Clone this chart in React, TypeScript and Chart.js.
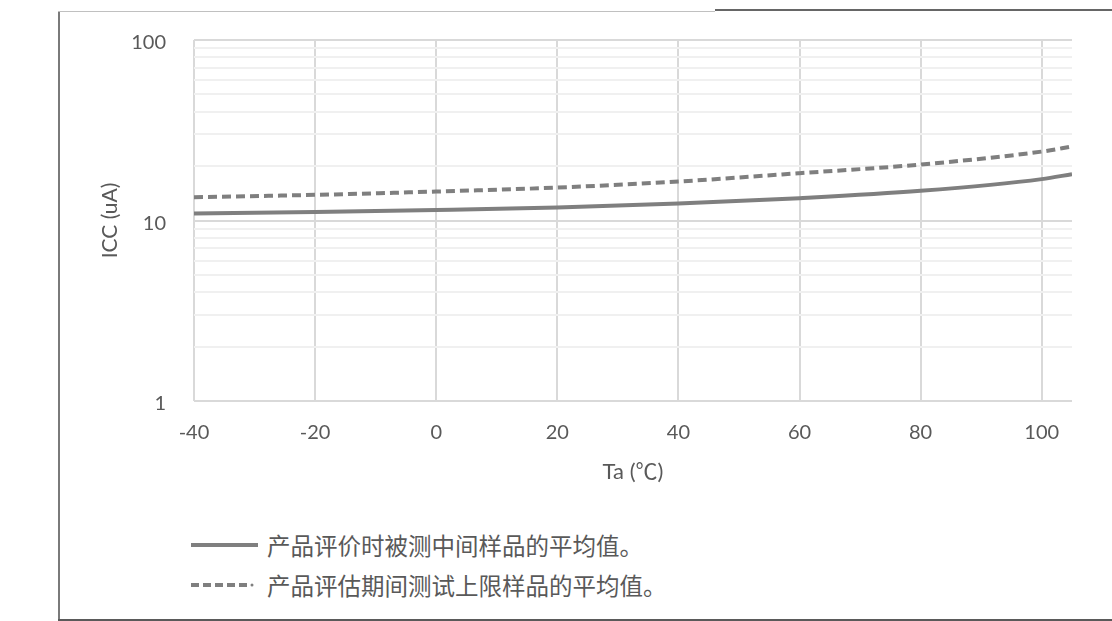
import React, { useEffect, useRef } from "react";
import { Chart, registerables } from "chart.js";

Chart.register(...registerables);

// ---- data ----
const temperatures = [-40, -20, 0, 20, 40, 60, 80, 100, 105];
const typicalIcc = [10.93, 11.13, 11.42, 11.8, 12.42, 13.3, 14.6, 16.95, 18.06];
const upperIcc = [13.47, 13.87, 14.47, 15.22, 16.44, 18.29, 20.42, 24.09, 25.68];
const seriesNames = ["产品评价时被测中间样品的平均值。", "产品评估期间测试上限样品的平均值。"];
const xTicks = [-40, -20, 0, 20, 40, 60, 80, 100];
const yTicks = [1, 2, 3, 4, 5, 6, 7, 8, 9, 10, 20, 30, 40, 50, 60, 70, 80, 90, 100];
const yLabelTicks = [1, 10, 100];
const xTitle = "Ta (℃)";
const yTitle = "ICC (uA)";

const FONT = "Lato, 'Noto Sans CJK SC', sans-serif";
const TEXT = "#595959";
const LINE = "#7f7f7f";

export default function App() {
  const canvasRef = useRef<HTMLCanvasElement | null>(null);

  useEffect(() => {
    const canvas = canvasRef.current;
    if (!canvas) return;
    const chart = new Chart(canvas, {
      type: "line",
      data: {
        datasets: [
          {
            label: seriesNames[0],
            data: temperatures.map((t, i) => ({ x: t, y: typicalIcc[i] })),
            borderColor: LINE,
            borderWidth: 4,
            pointRadius: 0,
            cubicInterpolationMode: "monotone",
            fill: false,
          },
          {
            label: seriesNames[1],
            data: temperatures.map((t, i) => ({ x: t, y: upperIcc[i] })),
            borderColor: LINE,
            borderWidth: 4,
            borderDash: [9, 5],
            pointRadius: 0,
            cubicInterpolationMode: "monotone",
            fill: false,
          },
        ],
      },
      options: {
        responsive: false,
        animation: false,
        layout: { padding: { left: 0, top: 40, right: 40, bottom: 0 } },
        plugins: { legend: { display: false }, tooltip: { enabled: false } },
        scales: {
          x: {
            type: "linear",
            min: -40,
            max: 105,
            afterBuildTicks: (axis: any) => {
              axis.ticks = xTicks.map((v) => ({ value: v }));
            },
            afterFit: (axis: any) => {
              axis.height = 99;
            },
            grid: { color: "#d9d9d9", lineWidth: 2, drawTicks: false },
            border: { display: false },
            ticks: {
              color: TEXT,
              font: { family: FONT, size: 20 },
              padding: 20,
              maxRotation: 0,
              autoSkip: false,
            },
            title: {
              display: true,
              text: xTitle,
              color: TEXT,
              font: { family: FONT, size: 22 },
              padding: { top: 15, bottom: 15 },
            },
          },
          y: {
            type: "logarithmic",
            min: 1,
            max: 100,
            afterBuildTicks: (axis: any) => {
              axis.ticks = yTicks.map((v) => ({ value: v }));
            },
            afterFit: (axis: any) => {
              axis.width = 194;
            },
            grid: {
              color: (ctx: any) =>
                ctx.tick && yLabelTicks.includes(ctx.tick.value) ? "#d9d9d9" : "#f0f0f0",
              lineWidth: 2,
              drawTicks: false,
            },
            border: { display: false },
            ticks: {
              color: TEXT,
              font: { family: FONT, size: 20 },
              padding: 28,
              autoSkip: false,
              labelOffset: 3,
              callback: (v: any) => (yLabelTicks.includes(Number(v)) ? String(v) : ""),
            },
            title: {
              display: true,
              text: yTitle,
              color: TEXT,
              font: { family: FONT, size: 21 },
              padding: { top: 98, bottom: 0 },
            },
          },
        },
      },
    } as any);
    return () => chart.destroy();
  }, []);

  return (
    <div style={{ position: "absolute", left: 0, top: 0, width: 1112, height: 621, background: "#fff", overflow: "hidden" }}>
      {/* frame lines */}
      <div style={{ position: "absolute", left: 58, top: 11, width: 2, height: 610, background: "#7a7a7a" }} />
      <div style={{ position: "absolute", left: 58, top: 11, width: 657, height: 1, background: "#c0c0c0" }} />
      <div style={{ position: "absolute", left: 715, top: 9, width: 397, height: 2, background: "#666" }} />
      <div style={{ position: "absolute", left: 58, top: 619, width: 1054, height: 2, background: "#5a5a5a" }} />
      <canvas ref={canvasRef} width={1112} height={500} style={{ position: "absolute", left: 0, top: 0, width: 1112, height: 500 }} />
      {/* legend */}
      {seriesNames.map((name, i) => (
        <div
          key={name}
          style={{
            position: "absolute",
            left: 191,
            top: i === 0 ? 530 : 570,
            height: 30,
            display: "flex",
            alignItems: "center",
            fontFamily: FONT,
            fontSize: 23.5,
            color: TEXT,
            whiteSpace: "nowrap",
          }}
        >
          <svg width={68} height={8} style={{ marginRight: 8 }}>
            {i === 0 ? (
              <line x1={0} y1={4} x2={67} y2={4} stroke={LINE} strokeWidth={4} />
            ) : (
              <g>
                <line x1={0} y1={4} x2={56} y2={4} stroke={LINE} strokeWidth={4} strokeDasharray="8 4" />
                <circle cx={61} cy={4} r={1.5} fill={LINE} />
              </g>
            )}
          </svg>
          <span>{name}</span>
        </div>
      ))}
    </div>
  );
}
